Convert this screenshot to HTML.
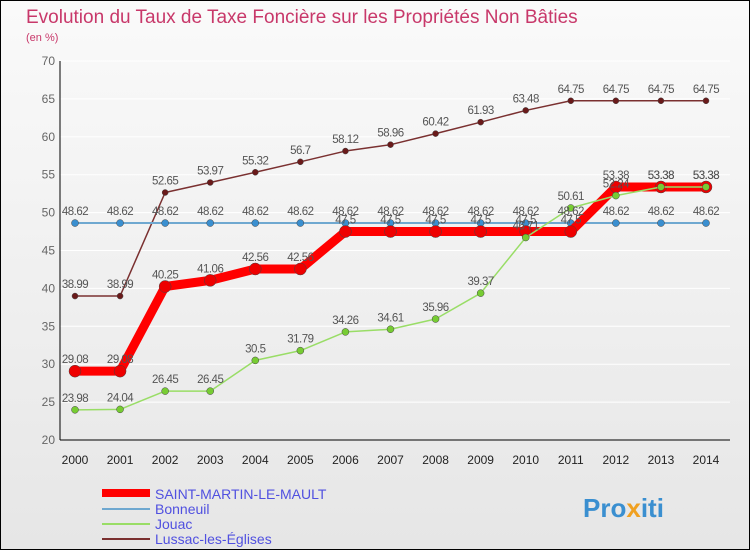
<!DOCTYPE html>
<html><head><meta charset="utf-8"><style>
body{margin:0;background:#fff}
svg text{font-family:"Liberation Sans",sans-serif}
</style></head><body>
<svg width="750" height="550" xmlns="http://www.w3.org/2000/svg">
<defs><linearGradient id="bg" x1="0" y1="0" x2="0" y2="1"><stop offset="0" stop-color="#fafafa"/><stop offset="1" stop-color="#e6e6e6"/></linearGradient></defs>
<rect x="0.5" y="0.5" width="749" height="549" fill="url(#bg)" stroke="#000"/>
<text x="26" y="23" font-size="19" fill="#c8386a">Evolution du Taux de Taxe Foncière sur les Propriétés Non Bâties</text>
<text x="26" y="41" font-size="11" fill="#c8386a">(en %)</text>
<g id="grid"></g><g id="axes"></g><g id="series"></g><g id="labels"></g>
<g>
<line x1="102" y1="493" x2="150" y2="493" stroke="#f00" stroke-width="8"/>
<text x="155" y="499" font-size="14" fill="#5050e0">SAINT-MARTIN-LE-MAULT</text>
<line x1="102" y1="509" x2="150" y2="509" stroke="#6fa8d0" stroke-width="2"/>
<text x="155" y="514" font-size="14" fill="#5050e0">Bonneuil</text>
<line x1="102" y1="524" x2="150" y2="524" stroke="#99dd66" stroke-width="2"/>
<text x="155" y="529" font-size="14" fill="#5050e0">Jouac</text>
<line x1="102" y1="539" x2="150" y2="539" stroke="#7a3030" stroke-width="2"/>
<text x="155" y="544" font-size="14" fill="#5050e0">Lussac-les-Églises</text>
</g>
<text x="583" y="517" font-size="26" font-weight="bold" fill="#3a8fd0">Pro<tspan fill="#f0a020">x</tspan>iti</text>
</svg>
<script>
const years=[2000,2001,2002,2003,2004,2005,2006,2007,2008,2009,2010,2011,2012,2013,2014];
const yTicks=[20,25,30,35,40,45,50,55,60,65,70];
const saintMartin=[29.08,29.08,40.25,41.06,42.56,42.56,47.5,47.5,47.5,47.5,47.5,47.5,53.38,53.38,53.38];
const bonneuil=[48.62,48.62,48.62,48.62,48.62,48.62,48.62,48.62,48.62,48.62,48.62,48.62,48.62,48.62,48.62];
const jouac=[23.98,24.04,26.45,26.45,30.5,31.79,34.26,34.61,35.96,39.37,46.71,50.61,52.24,53.38,53.38];
const lussac=[38.99,38.99,52.65,53.97,55.32,56.7,58.12,58.96,60.42,61.93,63.48,64.75,64.75,64.75,64.75];
const NS="http://www.w3.org/2000/svg";
const X=i=>75+i*(706-75)/14;
const Y=v=>440-(v-20)*(440-61)/50;
function mk(t,a,p){const e=document.createElementNS(NS,t);for(const k in a)e.setAttribute(k,a[k]);document.getElementById(p).appendChild(e);return e;}
yTicks.forEach(t=>{
 const g=mk('line',{x1:60,x2:730,y1:Y(t),y2:Y(t),stroke:'#fff','stroke-width':1},'grid');
 
 
 const tl=mk('text',{x:55,y:Y(t)+4,'font-size':12,fill:'#666','text-anchor':'end'},'axes');tl.textContent=t;
 
 
});
const ya=mk('line',{x1:60,x2:60,y1:61,y2:440,stroke:'#000'},'axes');


const xa=mk('line',{x1:60,x2:730,y1:440,y2:440,stroke:'#000'},'axes');


years.forEach((y,i)=>{
 const t=mk('text',{x:X(i),y:464,'font-size':12,fill:'#222','text-anchor':'middle'},'axes');t.textContent=y;
 
 
});
function series(d,name,col,w,r,mc){
 const p=mk('polyline',{points:d.map((v,i)=>X(i)+','+Y(v)).join(' '),fill:'none',stroke:col,'stroke-width':w,'stroke-linejoin':'round'},'series');
 
 
 d.forEach((v,i)=>{
  const c=mk('circle',{cx:X(i),cy:Y(v),r:r,fill:mc,stroke:'#444','stroke-width':0.5},'series');
  
  
  const t=mk('text',{x:X(i),y:Y(v)-8,'font-size':11.5,fill:'#555','text-anchor':'middle','letter-spacing':'-0.5'},'labels');t.textContent=v;
  
  
 });
}
series(lussac,'lussac','#7a3030',1.5,3,'#6a1a1a');
series(bonneuil,'bonneuil','#6fa8d0',2,3.5,'#3a8fd0');
series(saintMartin,'saint-martin','#f00',9,6,'#e00');
series(jouac,'jouac','#99dd66',1.5,3.5,'#77cc33');
</script>
</body></html>
